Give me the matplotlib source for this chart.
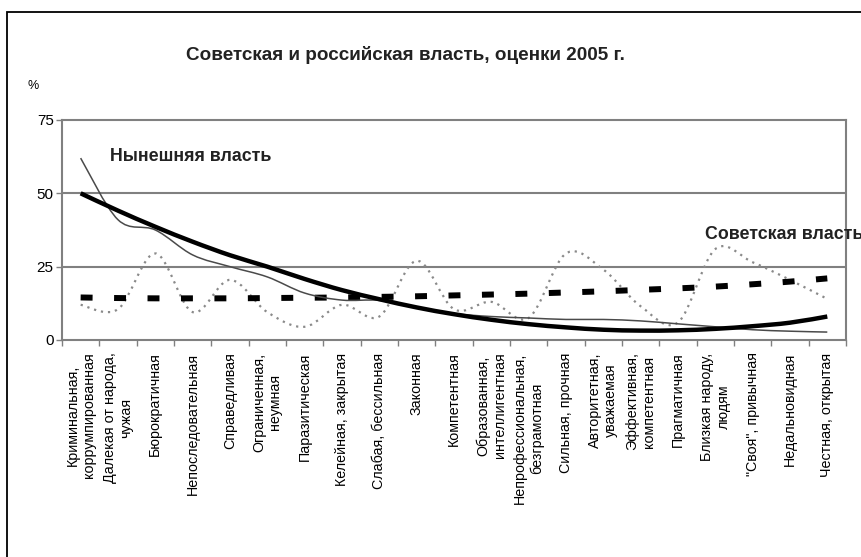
import numpy as np
import matplotlib
matplotlib.use('Agg')
import matplotlib.pyplot as plt
from matplotlib.path import Path
from matplotlib.patches import PathPatch, Rectangle

plt.rcParams['font.family'] = ['Liberation Sans', 'DejaVu Sans']

#%% DATA ###
categories = [
    'Криминальная,\nкоррумпированная', 'Далекая от народа,\nчужая', 'Бюрократичная',
    'Непоследовательная', 'Справедливая', 'Ограниченная,\nнеумная', 'Паразитическая',
    'Келейная, закрытая', 'Слабая, бессильная', 'Законная', 'Компетентная',
    'Образованная,\nинтеллигентная', 'Непрофессиональная,\nбезграмотная',
    'Сильная, прочная', 'Авторитетная,\nуважаемая', 'Эффективная,\nкомпетентная',
    'Прагматичная', 'Близкая народу,\nлюдям', '"Своя", привычная', 'Недальновидная',
    'Честная, открытая',
]
### current power (thin solid) and soviet power (dotted), %
current_power = [62, 41, 37.5, 29, 25, 21.5, 16, 13.6, 13.5, 11, 9,
                 8, 7.5, 7, 7, 6.5, 5.5, 4.5, 3.5, 3, 2.7]
soviet_power = [12, 10.5, 29.5, 9.5, 20.5, 9.5, 4.5, 12, 8, 27, 10.5,
                13, 7.5, 29.5, 24, 11.5, 6, 31, 26.5, 20.5, 14]
### polynomial trend lines
current_trend = [50, 44.1, 38.6, 33.5, 28.9, 25, 20.8, 17, 13.9, 11.1, 8.8,
                 6.9, 5.4, 4.3, 3.5, 3.2, 3.3, 3.8, 4.7, 5.9, 8.0]
soviet_trend = [14.5, 14.3, 14.2, 14.2, 14.2, 14.3, 14.4, 14.5, 14.7, 14.9, 15.2,
                15.5, 15.8, 16.2, 16.6, 17.1, 17.6, 18.2, 19.0, 19.9, 21.0]
yticks = [0, 25, 50, 75]


def smooth_path(values):
    ### Bezier path through the points (like Excel's smoothed line)
    pts = np.column_stack([np.arange(len(values), dtype=float),
                           np.asarray(values, dtype=float)])
    padded = np.vstack([pts[0], pts, pts[-1]])
    verts, codes = [pts[0]], [Path.MOVETO]
    for i in range(len(pts) - 1):
        p0, p1, p2, p3 = padded[i], padded[i+1], padded[i+2], padded[i+3]
        verts += [p1 + (p2 - p0) / 6, p2 - (p3 - p1) / 6, p2]
        codes += [Path.CURVE4] * 3
    return Path(verts, codes)


#%% PLOT ###
fig = plt.figure(figsize=(8.62, 5.57), dpi=100)
ax = fig.add_axes([0.0719, 0.3896, 0.9095, 0.395])
grey = '#808080'

for val in [25, 50]:
    ax.axhline(val, color=grey, lw=1.5, zorder=1)

ax.add_patch(PathPatch(smooth_path(soviet_power), fill=False, ec='#8a8a8a',
                       lw=1.6, ls=(0, (1, 2.2)), zorder=3))
ax.add_patch(PathPatch(smooth_path(soviet_trend), fill=False, ec='black',
                       lw=4.3, ls=(0, (2, 3.6)), capstyle='butt', zorder=4))
ax.add_patch(PathPatch(smooth_path(current_power), fill=False, ec='#4a4a4a',
                       lw=1.1, zorder=5))
ax.add_patch(PathPatch(smooth_path(current_trend), fill=False, ec='black',
                       lw=3.2, zorder=6))

ax.set_xlim(-0.5, len(categories) - 0.5)
ax.set_ylim(0, 75)
ax.set_yticks(yticks)
ax.set_yticklabels([str(v) for v in yticks], fontsize=11)
ax.tick_params(axis='y', length=4, width=1, color=grey, pad=2)

ax.set_xticks(np.arange(len(categories)))
ax.set_xticklabels(categories, rotation=90, ha='center', va='top',
                   multialignment='center', fontsize=10.3)
ax.set_xticks(np.arange(len(categories) + 1) - 0.5, minor=True)
ax.tick_params(axis='x', which='major', length=0, pad=9)
ax.tick_params(axis='x', which='minor', length=4, width=1, color=grey)

for side in ax.spines:
    ax.spines[side].set_color(grey)
    ax.spines[side].set_linewidth(1.5)

ax.text(0.79, 62.4, 'Нынешняя власть', fontsize=12.8, fontweight='bold',
        color='#222222', ha='left', va='center')
ax.text(16.72, 35.8, 'Советская власть', fontsize=12.8, fontweight='bold',
        color='#222222', ha='left', va='center', clip_on=False)

fig.text(405 / 862, 1 - 55 / 557, 'Советская и российская власть, оценки 2005 г.',
         fontsize=13.6, fontweight='bold', ha='center', va='center', color='#222222')
fig.text(33 / 862, 1 - 86 / 557, '%', fontsize=9, ha='center', va='center')

### outer frame (runs off the right and bottom edges)
fig.patches.append(Rectangle((7 / 862, -0.1), 1.5, 1 - 12 / 557 + 0.1, fill=False,
                             ec='black', lw=1.3, transform=fig.transFigure))

fig.savefig('out.png', dpi=100)
